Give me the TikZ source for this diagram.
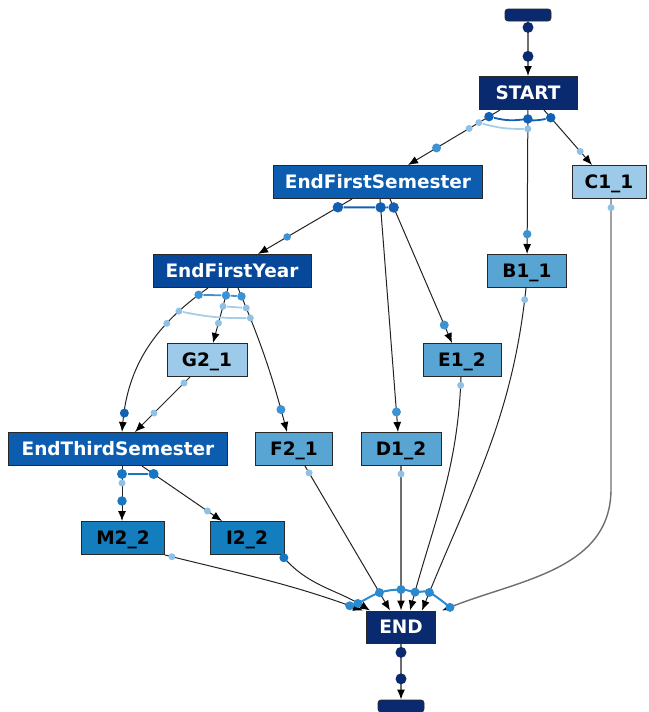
\documentclass[tikz,border=0pt]{standalone}
\usepackage{fontspec}
\newfontfamily\boxfont{DejaVu Sans}
\usetikzlibrary{positioning,arrows.meta}

\definecolor{navy}{RGB}{10,42,112}
\definecolor{deepblue}{RGB}{8,72,155}
\definecolor{royal}{RGB}{12,92,175}
\definecolor{ocean}{RGB}{20,125,190}
\definecolor{sky}{RGB}{88,165,212}
\definecolor{pale}{RGB}{157,202,232}
\definecolor{beadblue}{RGB}{16,96,180}
\definecolor{beadsea}{RGB}{22,120,196}
\definecolor{beadmid}{RGB}{59,147,211}
\definecolor{beadlight}{RGB}{143,193,230}
\definecolor{fanblue}{RGB}{42,138,208}
\definecolor{wire}{RGB}{35,35,35}
\definecolor{greywire}{RGB}{110,110,110}
\definecolor{rim}{RGB}{40,40,40}

\begin{document}
\begin{tikzpicture}[x=1pt, y=1pt,
  box/.style={draw=rim, line width=1pt, inner sep=0pt, minimum height=33pt,
    text height=13.5pt, text depth=0pt,
    font=\boxfont\bfseries\fontsize{18.5}{20}\selectfont},
  bar/.style={draw=rim, line width=0.8pt, fill=navy, rounded corners=3pt,
    minimum width=46pt, minimum height=12pt, inner sep=0pt},
  link/.style={wire, line width=1pt, -{Latex[length=10pt,width=8pt,color=black]}},
  bead/.style={circle, fill=#1, inner sep=0pt, minimum size=8.5pt},
  faint/.style={bead=beadlight, minimum size=7pt}]

\useasboundingbox (0,0) rectangle (648,-712);

\def\dy{89}
\def\ya{-93}
\def\yb{\ya - \dy}
\def\yc{\ya - 2*\dy}
\def\yd{\ya - 3*\dy}
\def\ye{\ya - 4*\dy}
\def\yf{\ya - 5*\dy}
\def\yg{\ya - 6*\dy}

\node[bar] (src) at (528,-15) {};
\node[box, fill=navy, text=white, minimum width=98pt] (start) at (528,\ya) {START};
\node[box, fill=royal, text=white, minimum width=209pt] (efs) at (378,\yb) {EndFirstSemester};
\node[box, fill=pale, minimum width=74pt] (cone) at (609,\yb) {C1\_1};
\node[box, fill=deepblue, text=white, minimum width=158pt] (efy) at (232,\yc) {EndFirstYear};
\node[box, fill=sky, minimum width=79pt] (bone) at (527,\yc) {B1\_1};
\node[box, fill=pale, minimum width=80pt] (gtwo) at (207,\yd) {G2\_1};
\node[box, fill=sky, minimum width=78pt] (eone) at (462,\yd) {E1\_2};
\node[box, fill=royal, text=white, minimum width=219pt] (ets) at (118,\ye) {EndThirdSemester};
\node[box, fill=sky, minimum width=77pt] (ftwo) at (294,\ye) {F2\_1};
\node[box, fill=sky, minimum width=80pt] (done) at (401,\ye) {D1\_2};
\node[box, fill=ocean, minimum width=83pt] (mtwo) at (123,\yf) {M2\_2};
\node[box, fill=ocean, minimum width=74pt] (itwo) at (247,\yf) {I2\_2};
\node[box, fill=navy, text=white, minimum width=69pt, minimum height=32pt] (fin) at (401,\yg) {END};
\node[bar] (snk) at (401,-706) {};

% into START
\draw[link, greywire, line width=1.3pt] (src) -- node[bead=navy, minimum size=11pt, pos=0.11] {}
  node[bead=navy, minimum size=11pt, pos=0.64] {} (start);

% out of START
\draw[link] ([xshift=-28pt]start.south) -- node[bead=beadblue, minimum size=9.5pt, pos=0.12] (sa) {}
  node[faint, pos=0.23] (la) {} node[faint, pos=0.336] {}
  node[bead=beadmid, minimum size=9pt, pos=0.69] {} ([xshift=30pt]efs.north);
\draw[link] (start) -- node[bead=beadblue, minimum size=9.5pt, pos=0.062] (sb) {}
  node[faint, pos=0.131] (lb) {} node[bead=beadmid, pos=0.862] {} (bone);
\draw[link] ([xshift=16pt]start.south) -- node[bead=beadblue, minimum size=9.5pt, pos=0.14] (sc) {}
  node[faint, pos=0.754] {} ([xshift=-17pt]cone.north);
\draw[beadblue, line width=1.8pt] (sa) to[bend right=10] (sb) to[bend right=10] (sc);
\draw[beadlight!80!white, line width=1.8pt] (la) to[bend right=8] (lb);

% out of EndFirstSemester
\draw[link] ([xshift=-26pt]efs.south) -- node[bead=beadblue, minimum size=10.5pt, pos=0.15] (ea) {}
  node[bead=beadmid, minimum size=7.5pt, pos=0.69] {} ([xshift=26pt]efy.north);
\draw[link] ([xshift=2pt]efs.south) -- node[bead=beadblue, minimum size=10.5pt, pos=0.036] (eb) {}
  node[bead=beadmid, minimum size=9pt, pos=0.914] {} ([xshift=-3pt]done.north);
\draw[link] ([xshift=12pt]efs.south) -- node[bead=beadblue, minimum size=10.5pt, pos=0.059] (ec) {}
  node[bead=beadmid, minimum size=9pt, pos=0.875] {} ([xshift=-10pt]eone.north);
\draw[beadblue, line width=2pt] (ea) -- (eb) -- (ec);

% out of EndFirstYear
\draw[link] ([xshift=-24pt]efy.south) to[out=-145, in=85]
  node[bead=beadmid, pos=0.06] (ya) {} node[faint, pos=0.2] (yl) {}
  node[faint, pos=0.3] {} node[bead=beadblue, minimum size=9pt, pos=0.9] {} ([xshift=4pt]ets.north);
\draw[link] ([xshift=-4pt]efy.south) -- node[bead=beadmid, pos=0.135] (yb) {}
  node[faint, pos=0.333] (ym) {} node[faint, pos=0.64] {} ([xshift=6pt]gtwo.north);
\draw[link] ([xshift=6pt]efy.south) to[bend left=4]
  node[bead=beadmid, pos=0.052] (yc) {} node[faint, pos=0.128] (yn) {}
  node[faint, pos=0.197] (yr) {} node[bead=beadmid, minimum size=9pt, pos=0.862] {} ([xshift=-7pt]ftwo.north);
\draw[beadmid, line width=1.8pt] (ya) -- (yb) -- (yc);
\draw[beadlight!80!white, line width=1.8pt] (ym) -- (yn);
\draw[beadlight!80!white, line width=1.8pt] (yl) to[bend right=6] (yr);

\draw[link] ([xshift=-17pt]gtwo.south) -- node[faint, pos=0.109] {}
  node[faint, pos=0.655] {} ([xshift=17pt]ets.north);

% out of EndThirdSemester
\draw[link] ([xshift=4pt]ets.south) -- node[bead=beadsea, minimum size=10pt, pos=0.145] (ta) {}
  node[faint, pos=0.31] {} node[bead=beadsea, minimum size=9.5pt, pos=0.636] {} ([xshift=-1pt]mtwo.north);
\draw[link] ([xshift=24pt]ets.south) -- node[bead=beadsea, minimum size=10pt, pos=0.145] (tb) {}
  node[faint, pos=0.818] {} ([xshift=-25pt]itwo.north);
\draw[beadsea, line width=2pt] (ta) -- (tb);

% into END
\draw[link] (mtwo.south east) to[out=-14, in=160] node[faint, pos=0.03] {}
  node[bead=fanblue, minimum size=9pt, pos=0.94] (na) {} ([xshift=-38pt]fin.north);
\draw[link] ([xshift=-3pt]itwo.south east) to[out=-50, in=148] node[bead=beadsea, minimum size=9pt, pos=0.03] {}
  node[bead=fanblue, minimum size=9pt, pos=0.88] (nb) {} ([xshift=-31pt]fin.north);
\draw[link] ([xshift=11pt]ftwo.south) -- node[faint, pos=0.048] {}
  node[bead=fanblue, minimum size=9pt, pos=0.876] (nc) {} ([xshift=-11pt]fin.north);
\draw[link, greywire, line width=1.3pt] (done) -- node[faint, pos=0.055] {}
  node[bead=fanblue, minimum size=9pt, pos=0.855] (nd) {} (fin);
\draw[link] ([xshift=-1pt]eone.south) to[out=-92, in=75] node[faint, pos=0.03] {}
  node[bead=fanblue, minimum size=9pt, pos=0.93] (ne) {} ([xshift=9pt]fin.north);
\draw[link] ([xshift=-1pt]bone.south) to[out=-96, in=68] node[faint, pos=0.03] {}
  node[bead=fanblue, minimum size=9pt, pos=0.95] (nf) {} ([xshift=21pt]fin.north);
\draw[link, greywire, line width=1.4pt] ([xshift=2pt]cone.south) -- node[faint, pos=0.03] {} ++(0,-290)
  to[out=-90, in=22] node[bead=fanblue, minimum size=9pt, pos=0.965] (ng) {} ([xshift=41pt]fin.north);
\draw[fanblue, line width=2pt] plot[smooth, tension=0.6] coordinates
  {(na.center) (nb.center) (nc.center) (nd.center) (ne.center) (nf.center) (ng.center)};

% out of END
\draw[link, greywire, line width=1.3pt] (fin) -- node[bead=navy, minimum size=11pt, pos=0.158] {}
  node[bead=navy, minimum size=11pt, pos=0.63] {} (snk);

\end{tikzpicture}
\end{document}
